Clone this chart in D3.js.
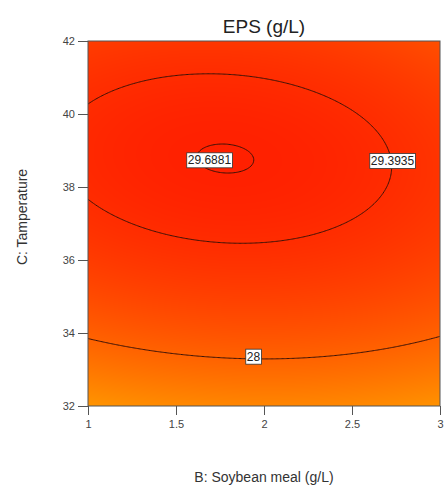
<!DOCTYPE html>
<html>
<head>
<meta charset="utf-8">
<script src="https://cdn.jsdelivr.net/npm/d3@7"></script>
<style>
  body { margin: 0; background: #fff; }
  svg { font-family: "Liberation Sans", Arial, sans-serif; }
</style>
</head>
<body>
<svg width="445" height="488"></svg>
<script>
// quadratic response surface: EPS = f0 - a*(u - s*v)^2 - c*v^2
const centre = [1.78, 38.78];          // B0, C0 (stationary point)
const coefs = [29.697, 0.343, 0.0563, -0.04]; // f0, a, c, ridge slope s
const levels = [28, 29.3935, 29.6881];
const labelPos = [[1.94, 33.36], [2.73, 38.72], [1.69, 38.74]];
const xTicks = [1, 1.5, 2, 2.5, 3];
const yTicks = [32, 34, 36, 38, 40, 42];
const colourStops = [26.7, 28, 29.7];
const colours = ['#ff9600', '#ff6200', '#ff2000'];

function eps(b, t) {
  const u = b - centre[0], v = t - centre[1];
  const w = u - coefs[3] * v;
  return coefs[0] - coefs[1] * w * w - coefs[2] * v * v;
}

const svg = d3.select('svg');
const L = 88, R = 440, T = 41, B = 406;

const x = d3.scaleLinear().domain([1, 3]).range([L, R]);
const y = d3.scaleLinear().domain([32, 42]).range([B, T]);
const colour = d3.scaleLinear().domain(colourStops).range(colours).clamp(true);

// fill, one pixel at a time
const cw = R - L, ch = B - T;
const canvas = document.createElement('canvas');
canvas.width = cw; canvas.height = ch;
const ctx = canvas.getContext('2d');
const img = ctx.createImageData(cw, ch);
for (let j = 0; j < ch; j++) {
  for (let i = 0; i < cw; i++) {
    const c = d3.rgb(colour(eps(x.invert(L + i + 0.5), y.invert(T + j + 0.5))));
    const k = (j * cw + i) * 4;
    img.data[k] = c.r; img.data[k + 1] = c.g; img.data[k + 2] = c.b; img.data[k + 3] = 255;
  }
}
ctx.putImageData(img, 0, 0);

svg.append('image')
  .attr('x', L).attr('y', T)
  .attr('width', cw).attr('height', ch)
  .attr('href', canvas.toDataURL());

// contour lines, grid a bit wider than the plot then clipped
svg.append('clipPath').attr('id', 'plot')
  .append('rect').attr('x', L).attr('y', T).attr('width', cw).attr('height', ch);

const nx = 300, ny = 300;
const gx = d3.scaleLinear().domain([0, nx]).range([0.95, 3.05]);
const gy = d3.scaleLinear().domain([0, ny]).range([42.3, 31.7]);
const grid = new Array(nx * ny);
for (let j = 0; j < ny; j++) {
  for (let i = 0; i < nx; i++) {
    grid[j * nx + i] = eps(gx(i + 0.5), gy(j + 0.5));
  }
}
const contours = d3.contours().size([nx, ny]).thresholds(levels)(grid);
const path = d3.geoPath(d3.geoTransform({
  point: function(px, py) { this.stream.point(x(gx(px)), y(gy(py))); }
}));

svg.append('g').attr('clip-path', 'url(#plot)')
  .selectAll('path')
  .data(contours)
  .join('path')
  .attr('d', path)
  .attr('fill', 'none')
  .attr('stroke', '#3a1208')
  .attr('stroke-width', 1);

// contour labels
const lab = svg.append('g').selectAll('g')
  .data(levels)
  .join('g')
  .attr('transform', (d, i) => `translate(${x(labelPos[i][0])},${y(labelPos[i][1])})`);
lab.append('text')
  .attr('text-anchor', 'middle')
  .attr('dy', '0.36em')
  .style('font-size', '12px')
  .style('fill', '#222')
  .text(d => d);
lab.each(function() {
  const g = d3.select(this);
  const bb = g.select('text').node().getBBox();
  g.insert('rect', 'text')
    .attr('x', bb.x - 1).attr('y', bb.y - 0.5)
    .attr('width', bb.width + 2).attr('height', bb.height + 1)
    .attr('fill', '#fff')
    .attr('stroke', '#333')
    .attr('stroke-width', 0.8);
});

// frame
svg.append('rect')
  .attr('x', L).attr('y', T).attr('width', cw).attr('height', ch)
  .attr('fill', 'none').attr('stroke', '#555').attr('stroke-width', 1);

// axes
const xAxis = svg.append('g')
  .attr('transform', `translate(0,${B})`)
  .call(d3.axisBottom(x).tickValues(xTicks).tickSize(9).tickPadding(5).tickFormat(d3.format('')));
const yAxis = svg.append('g')
  .attr('transform', `translate(${L},0)`)
  .call(d3.axisLeft(y).tickValues(yTicks).tickSize(10).tickPadding(3));
[xAxis, yAxis].forEach(a => {
  a.select('.domain').remove();
  a.selectAll('line').attr('stroke', '#555');
  a.selectAll('text').style('font-size', '11px').style('fill', '#444')
    .style('font-family', '"Liberation Sans", Arial, sans-serif');
});

// titles
svg.append('text')
  .attr('x', (L + R) / 2).attr('y', 33)
  .attr('text-anchor', 'middle')
  .style('font-size', '19px').style('fill', '#222')
  .text('EPS (g/L)');

svg.append('text')
  .attr('x', (L + R) / 2).attr('y', 482)
  .attr('text-anchor', 'middle')
  .style('font-size', '14px').style('fill', '#333')
  .text('B: Soybean meal (g/L)');

svg.append('text')
  .attr('transform', 'translate(27,217) rotate(-90)')
  .attr('text-anchor', 'middle')
  .style('font-size', '14px').style('fill', '#333')
  .text('C: Tamperature');
</script>
</body>
</html>
